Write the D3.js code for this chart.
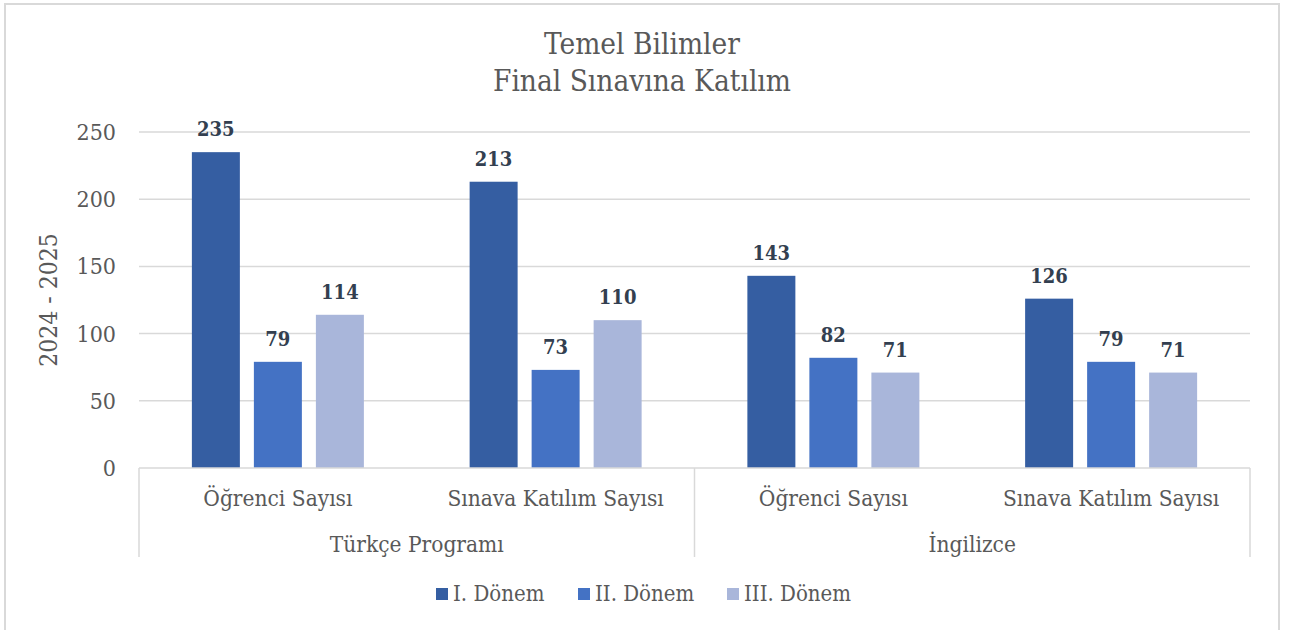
<!DOCTYPE html>
<html lang="tr">
<head>
<meta charset="UTF-8">
<title>Temel Bilimler - Final Sınavına Katılım</title>
<script src="https://d3js.org/d3.v7.min.js"></script>
<style>
    body { margin: 0; background: #fff; }
    svg text { font-family: "DejaVu Serif Condensed", "Liberation Serif", serif; }
</style>
</head>
<body>
<div id="chart"></div>
<script>
    // data
    const groups = ["Türkçe Programı", "İngilizce"];
    const subCategories = ["Öğrenci Sayısı", "Sınava Katılım Sayısı"];
    const seriesNames = ["I. Dönem", "II. Dönem", "III. Dönem"];
    const seriesColors = ["#355ea2", "#4472c4", "#a9b6da"];
    const donem1 = [235, 213, 143, 126];
    const donem2 = [79, 73, 82, 79];
    const donem3 = [114, 110, 71, 71];
    const yTicks = [0, 50, 100, 150, 200, 250];

    const width = 1291, height = 630;
    const plot = { left: 139, right: 1250, top: 132, bottom: 468 };

    const rows = [];
    groups.forEach((g, gi) => subCategories.forEach((s, si) => {
        const i = gi * subCategories.length + si;
        rows.push({ key: i, group: g, sub: s, values: [donem1[i], donem2[i], donem3[i]] });
    }));

    const svg = d3.select("#chart").append("svg")
        .attr("width", width).attr("height", height);

    // outer border
    svg.append("rect")
        .attr("x", 5).attr("y", 4)
        .attr("width", 1274).attr("height", 640)
        .attr("fill", "none").attr("stroke", "#d9d9d9").attr("stroke-width", 2);

    const x = d3.scaleBand().domain(rows.map(d => d.key))
        .range([plot.left, plot.right]);
    const xInner = d3.scaleBand().domain(seriesNames)
        .range([0, 172]).paddingInner(0.226);
    const y = d3.scaleLinear().domain([0, 250]).range([plot.bottom, plot.top]);

    // gridlines
    svg.append("g").selectAll("line").data(yTicks.filter(t => t > 0)).join("line")
        .attr("x1", plot.left).attr("x2", plot.right)
        .attr("y1", d => y(d)).attr("y2", d => y(d))
        .attr("stroke", "#d9d9d9").attr("stroke-width", 1.5);

    // y axis labels
    svg.append("g").selectAll("text").data(yTicks).join("text")
        .attr("x", 116).attr("y", d => y(d))
        .attr("dy", "0.35em").attr("text-anchor", "end")
        .attr("font-size", 23).attr("fill", "#595959")
        .text(d => d);

    svg.append("text")
        .attr("transform", `translate(57, ${(plot.top + plot.bottom) / 2}) rotate(-90)`)
        .attr("text-anchor", "middle")
        .attr("font-size", 24.5).attr("fill", "#595959")
        .text("2024 - 2025");

    // bars
    const barG = svg.append("g").selectAll("g").data(rows).join("g")
        .attr("transform", d => `translate(${x(d.key) + x.bandwidth() / 2 - 86},0)`);

    barG.selectAll("rect").data(d => d.values.map((v, i) => ({ v, s: seriesNames[i], i })))
        .join("rect")
        .attr("x", d => xInner(d.s))
        .attr("width", xInner.bandwidth())
        .attr("y", d => y(d.v))
        .attr("height", d => y(0) - y(d.v))
        .attr("fill", d => seriesColors[d.i]);

    barG.selectAll("text").data(d => d.values.map((v, i) => ({ v, s: seriesNames[i] })))
        .join("text")
        .attr("x", d => xInner(d.s) + xInner.bandwidth() / 2)
        .attr("y", d => y(d.v) - 16)
        .attr("text-anchor", "middle")
        .attr("font-size", 20).attr("font-weight", "bold")
        .attr("fill", "#333f50")
        .text(d => d.v);

    // category axis box
    const axisG = svg.append("g").attr("stroke", "#d9d9d9").attr("stroke-width", 1.5);
    axisG.append("line").attr("x1", plot.left).attr("x2", plot.right)
        .attr("y1", plot.bottom).attr("y2", plot.bottom);
    [0, 2, 4].forEach(k => {
        const xx = k < 4 ? x(k) : plot.right;
        axisG.append("line").attr("x1", xx).attr("x2", xx)
            .attr("y1", plot.bottom).attr("y2", 557);
    });

    svg.append("g").selectAll("text").data(rows).join("text")
        .attr("x", d => x(d.key) + x.bandwidth() / 2)
        .attr("y", 506)
        .attr("text-anchor", "middle")
        .attr("font-size", 22.5).attr("fill", "#595959")
        .text(d => d.sub);

    svg.append("g").selectAll("text").data(groups).join("text")
        .attr("x", (d, i) => x(i * 2) + x.bandwidth())
        .attr("y", 552)
        .attr("text-anchor", "middle")
        .attr("font-size", 22.5).attr("fill", "#595959")
        .text(d => d);

    // title
    const title = svg.append("text").attr("text-anchor", "middle")
        .attr("font-size", 29.5).attr("fill", "#595959");
    title.append("tspan").attr("x", 642).attr("y", 54).text("Temel Bilimler");
    title.append("tspan").attr("x", 642).attr("y", 91).text("Final Sınavına Katılım");

    // legend
    const legendX = [436, 578, 727];
    const leg = svg.append("g").selectAll("g").data(seriesNames).join("g")
        .attr("transform", (d, i) => `translate(${legendX[i]}, 601)`);
    leg.append("rect").attr("x", 0).attr("y", -13).attr("width", 12).attr("height", 12)
        .attr("fill", (d, i) => seriesColors[i]);
    leg.append("text").attr("x", 17).attr("y", 0)
        .attr("font-size", 22).attr("fill", "#595959")
        .text(d => d);
</script>
</body>
</html>
